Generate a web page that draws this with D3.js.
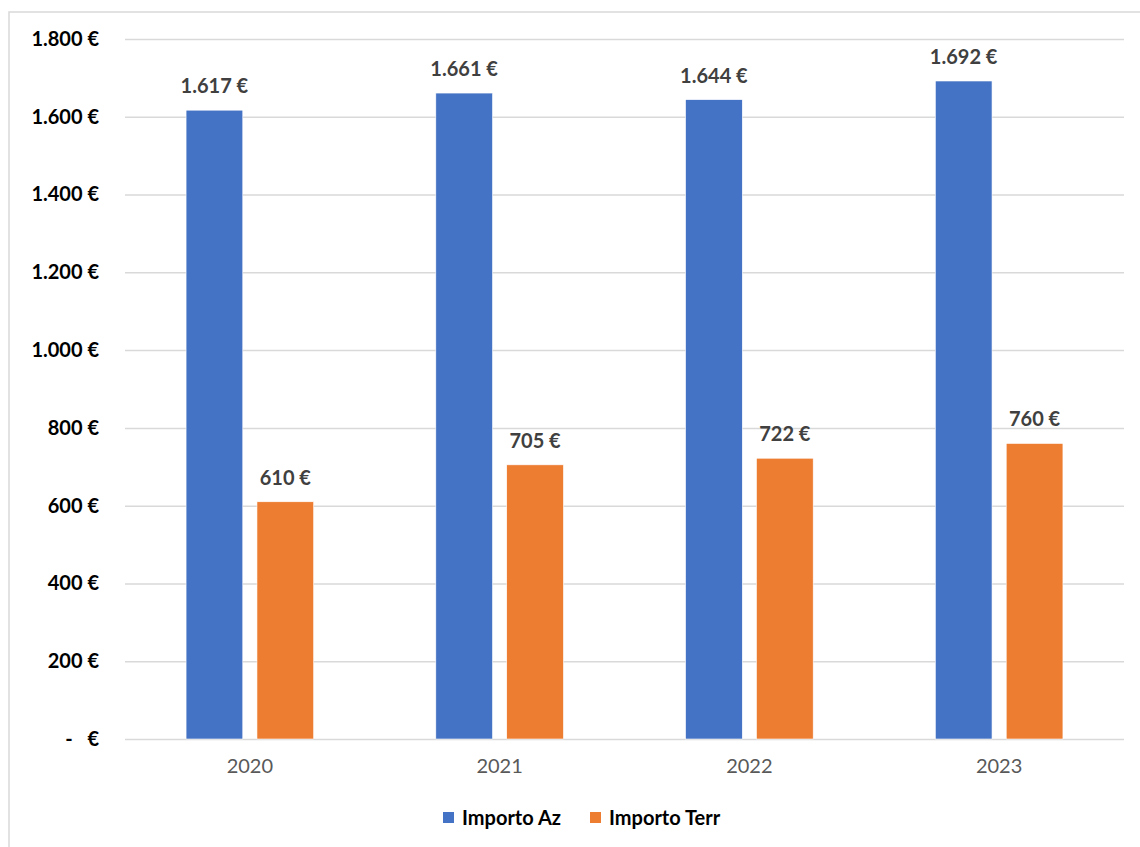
<!DOCTYPE html>
<html>
<head>
<meta charset="utf-8">
<script src="https://cdn.jsdelivr.net/npm/d3@7"></script>
<style>
  html, body { margin: 0; padding: 0; background: #fff; }
  svg { display: block; font-family: Lato, "Open Sans", sans-serif; }
</style>
</head>
<body>
<svg id="chart" width="1140" height="847"></svg>
<script>
// Years and the two amounts per year (euro)
const years = ["2020", "2021", "2022", "2023"];
const seriesNames = ["Importo Az", "Importo Terr"];
const importoAz = [1617, 1661, 1644, 1692];
const importoTerr = [610, 705, 722, 760];
const yTicks = [0, 200, 400, 600, 800, 1000, 1200, 1400, 1600, 1800];
const seriesColors = ["#4472C4", "#ED7D31"];

const seriesValues = [importoAz, importoTerr];
const rows = years.map((y, i) => ({
  year: y,
  values: seriesNames.map((s, j) => ({ series: s, value: seriesValues[j][i], color: seriesColors[j] }))
}));

// Italian-style number: 1.617 €
const itLocale = d3.formatLocale({ decimal: ",", thousands: ".", grouping: [3], currency: ["", " €"] });
const fmt = itLocale.format(",.0f");
const euro = v => fmt(v) + " €";

const svg = d3.select("#chart");

// Chart frame
svg.append("path")
  .attr("d", "M9,860 L9,12 L1150,12")
  .attr("fill", "none")
  .attr("stroke", "#d9d9d9")
  .attr("stroke-width", 1.5);

const plot = { left: 125, right: 1124, top: 39, bottom: 739 };

const x = d3.scaleBand().domain(years).range([plot.left, plot.right]).padding(0);
const groupW = x.bandwidth() * 0.511;
const xInner = d3.scaleBand()
  .domain(seriesNames)
  .range([(x.bandwidth() - groupW) / 2, (x.bandwidth() + groupW) / 2])
  .paddingInner(0.2)
  .paddingOuter(0);

const y = d3.scaleLinear().domain([0, 1800]).range([plot.bottom, plot.top]);

// Gridlines + y tick labels
const yAxis = d3.axisLeft(y)
  .tickValues(yTicks)
  .tickSize(-(plot.right - plot.left))
  .tickPadding(26)
  .tickFormat(v => v === 0 ? "-   €" : euro(v));

const gy = svg.append("g")
  .attr("transform", `translate(${plot.left},0)`)
  .call(yAxis);
gy.select(".domain").remove();
gy.selectAll(".tick line").attr("stroke", "#d9d9d9").attr("stroke-width", 1.5);
gy.selectAll(".tick text")
  .attr("fill", "#000")
  .attr("font-size", 20)
  .attr("font-weight", 700)
  .style("white-space", "pre")
  .attr("font-family", "Lato, sans-serif");

// X axis labels
const xAxis = d3.axisBottom(x).tickSize(0).tickPadding(20);
const gx = svg.append("g")
  .attr("transform", `translate(0,${plot.bottom})`)
  .call(xAxis);
gx.select(".domain").remove();
gx.selectAll(".tick text")
  .attr("fill", "#595959")
  .attr("font-size", 20)
  .attr("font-family", "Lato, sans-serif");

// Bars
const groups = svg.append("g").selectAll("g")
  .data(rows)
  .join("g")
  .attr("transform", d => `translate(${x(d.year)},0)`);

groups.selectAll("rect")
  .data(d => d.values)
  .join("rect")
  .attr("x", d => xInner(d.series))
  .attr("width", xInner.bandwidth())
  .attr("y", d => y(d.value))
  .attr("height", d => y(0) - y(d.value))
  .attr("fill", d => d.color)
  .attr("stroke", "#fff")
  .attr("stroke-width", 0.6);

// Value labels
groups.selectAll("text.val")
  .data(d => d.values)
  .join("text")
  .attr("class", "val")
  .attr("x", d => xInner(d.series) + xInner.bandwidth() / 2)
  .attr("y", d => y(d.value) - 17)
  .attr("text-anchor", "middle")
  .attr("fill", "#404040")
  .attr("font-size", 20)
  .attr("font-weight", 700)
  .text(d => euro(d.value));

// Legend
const legendItems = [
  { name: seriesNames[0], color: seriesColors[0], x: 443 },
  { name: seriesNames[1], color: seriesColors[1], x: 590 }
];
const lg = svg.append("g").selectAll("g")
  .data(legendItems)
  .join("g")
  .attr("transform", d => `translate(${d.x},812)`);
lg.append("rect")
  .attr("width", 11).attr("height", 11)
  .attr("fill", d => d.color);
lg.append("text")
  .attr("x", 19)
  .attr("y", 5.5)
  .attr("dy", "0.35em")
  .attr("fill", "#000")
  .attr("font-size", 20)
  .attr("font-weight", 700)
  .text(d => d.name);
</script>
</body>
</html>
